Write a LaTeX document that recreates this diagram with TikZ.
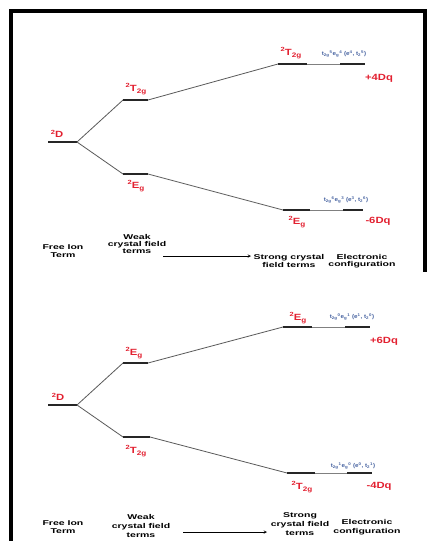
\documentclass[tikz,border=0pt]{standalone}
\usepackage{fontspec}
\setmainfont{Liberation Sans}
\usetikzlibrary{arrows}
\definecolor{termred}{RGB}{226,32,48}
\definecolor{confblue}{RGB}{70,98,160}
\tikzset{
    level_line/.style = {line width=1.8pt, black!85},
    link_line/.style = {line width=0.8pt, black!65},
    conf_line/.style = {line width=0.6pt, black!50},
    term_lbl/.style = {inner sep=0pt, xscale=1.25, text=termred, font=\bfseries\fontsize{9}{9}\selectfont},
    conf_lbl/.style = {inner sep=0pt, xscale=1.12, text=confblue, font=\bfseries\fontsize{5.6}{6}\selectfont},
    col_lbl/.style = {inner sep=0pt, xscale=1.5, align=center, font=\bfseries\fontsize{7}{7.4}\selectfont},
    col_lbl_b/.style = {col_lbl, font=\bfseries\fontsize{7}{8.6}\selectfont}
}
\newcommand{\up}[1]{\raisebox{0.42em}{\fontsize{6}{6}\selectfont #1}}
\newcommand{\dn}[1]{\raisebox{-0.28em}{\fontsize{6.5}{6}\selectfont #1}}
\newcommand{\Tg}{\up{2}T\dn{2g}}
\newcommand{\Eg}{\up{2}E\dn{g}}
\newcommand{\conf}[4]{t\textsubscript{2g}\textsuperscript{#1}e\textsubscript{g}\textsuperscript{#2} (e\textsuperscript{#3}, t\textsubscript{2}\textsuperscript{#4})}
\begin{document}
\begin{tikzpicture}[x=1pt, y=-1pt]
    \useasboundingbox (0,0) rectangle (427,541);
    \draw[line width=4pt] (11,541) -- (11,11) -- (425,11) -- (425,272);

    % upper diagram
    \coordinate (uDa) at (48,142);   \coordinate (uDb) at (77,142);
    \coordinate (uTa) at (123,100);  \coordinate (uTb) at (148,100);
    \coordinate (uEa) at (123,174);  \coordinate (uEb) at (148,174);
    \coordinate (uSTa) at (278,64);  \coordinate (uSTb) at (307,64);
    \coordinate (uCTa) at (340,64);  \coordinate (uCTb) at (365,64);
    \coordinate (uSEa) at (283,210); \coordinate (uSEb) at (310,210);
    \coordinate (uCEa) at (343,210); \coordinate (uCEb) at (363,210);
    \draw[level_line] (uDa) -- (uDb);
    \draw[level_line] (uTa) -- (uTb);
    \draw[level_line] (uEa) -- (uEb);
    \draw[level_line] (uSTa) -- (uSTb);
    \draw[level_line] (uCTa) -- (uCTb);
    \draw[level_line] (uSEa) -- (uSEb);
    \draw[level_line] (uCEa) -- (uCEb);
    \draw[link_line] (uDb) -- (uTa);
    \draw[link_line] (uDb) -- (uEa);
    \draw[link_line] (uTb) -- (uSTa);
    \draw[link_line] (uEb) -- (uSEa);
    \draw[conf_line] (uSTb) -- (uCTa);
    \draw[conf_line] (uSEb) -- (uCEa);
    \node[term_lbl] (uD) at (57,134) {\up{2}D};
    \node[term_lbl] (uT) at (136,89) {\Tg};
    \node[term_lbl] (uE) at (136,186) {\Eg};
    \node[term_lbl] (uST) at (291,53) {\Tg};
    \node[term_lbl] (uSE) at (297,222) {\Eg};
    \node[conf_lbl] (uCT) at (344,54) {\conf{5}{4}{4}{5}};
    \node[conf_lbl] (uCE) at (346,200) {\conf{6}{3}{3}{6}};
    \node[term_lbl] (uP) at (379,78) {+4Dq};
    \node[term_lbl] (uM) at (378,221) {-6Dq};
    \node[col_lbl] (uFree) at (63,251) {Free Ion\\Term};
    \node[col_lbl] (uWeak) at (137,244) {Weak\\crystal field\\terms};
    \node[col_lbl] (uStrong) at (289,261) {Strong crystal\\field terms};
    \node[col_lbl] (uConf) at (362,261) {Electronic\\configuration};
    \coordinate (uAa) at (163,256); \coordinate (uAb) at (251,256);
    \draw[->, >=stealth, line width=0.5pt] (uAa) -- (uAb);

    % lower diagram
    \coordinate (lDa) at (48,405);   \coordinate (lDb) at (77,405);
    \coordinate (lEa) at (123,363);  \coordinate (lEb) at (148,363);
    \coordinate (lTa) at (123,437);  \coordinate (lTb) at (150,437);
    \coordinate (lSEa) at (283,327); \coordinate (lSEb) at (312,327);
    \coordinate (lCEa) at (345,327); \coordinate (lCEb) at (370,327);
    \coordinate (lSTa) at (287,473); \coordinate (lSTb) at (315,473);
    \coordinate (lCTa) at (347,473); \coordinate (lCTb) at (372,473);
    \draw[level_line] (lDa) -- (lDb);
    \draw[level_line] (lEa) -- (lEb);
    \draw[level_line] (lTa) -- (lTb);
    \draw[level_line] (lSEa) -- (lSEb);
    \draw[level_line] (lCEa) -- (lCEb);
    \draw[level_line] (lSTa) -- (lSTb);
    \draw[level_line] (lCTa) -- (lCTb);
    \draw[link_line] (lDb) -- (lEa);
    \draw[link_line] (lDb) -- (lTa);
    \draw[link_line] (lEb) -- (lSEa);
    \draw[link_line] (lTb) -- (lSTa);
    \draw[conf_line] (lSEb) -- (lCEa);
    \draw[conf_line] (lSTb) -- (lCTa);
    \node[term_lbl] (lD) at (58,397) {\up{2}D};
    \node[term_lbl] (lE) at (134,353) {\Eg};
    \node[term_lbl] (lT) at (136,451) {\Tg};
    \node[term_lbl] (lSE) at (298,318) {\Eg};
    \node[term_lbl] (lST) at (302,487) {\Tg};
    \node[conf_lbl] (lCE) at (352,317) {\conf{0}{1}{1}{0}};
    \node[conf_lbl] (lCT) at (353,466) {\conf{1}{0}{0}{1}};
    \node[term_lbl] (lP) at (384,341) {+6Dq};
    \node[term_lbl] (lM) at (379,486) {-4Dq};
    \node[col_lbl_b] (lFree) at (63,527) {Free Ion\\Term};
    \node[col_lbl_b] (lWeak) at (141,526) {Weak\\crystal field\\terms};
    \node[col_lbl_b] (lStrong) at (300,524) {Strong\\crystal field\\terms};
    \node[col_lbl_b] (lConf) at (367,527) {Electronic\\configuration};
    \coordinate (lAa) at (183,532); \coordinate (lAb) at (267,532);
    \draw[->, >=stealth, line width=0.5pt] (lAa) -- (lAb);
\end{tikzpicture}
\end{document}
